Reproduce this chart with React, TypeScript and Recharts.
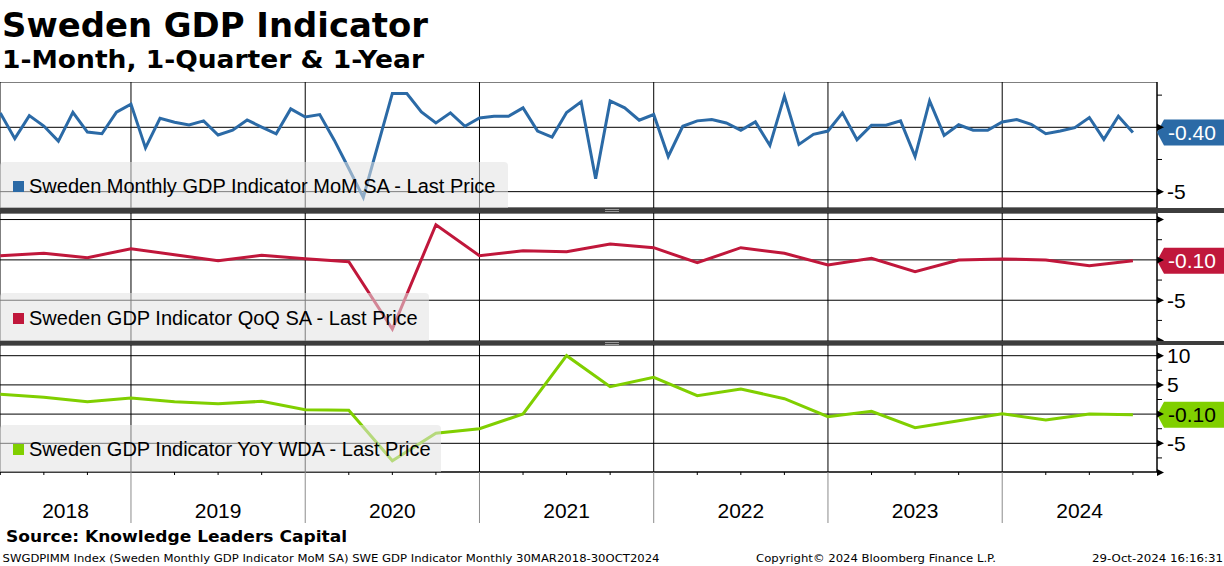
import React from "react";
import { LineChart, Line, XAxis, YAxis, CartesianGrid, ReferenceDot } from "recharts";

const WIDTH = 1224;
const AXIS_WIDTH = 67;
// x is months counted from the end of Dec 2017 (Mar 2018 = 3, Sep 2024 = 81)
const X_MIN = 2.98;
const X_MAX = 82.66;
const FONT = "'Liberation Sans', Arial, sans-serif";
const BOLD_FONT = "'DejaVu Sans', Verdana, sans-serif";

const years = ["2018", "2019", "2020", "2021", "2022", "2023", "2024"];

// Sweden Monthly GDP Indicator MoM SA, Mar 2018 - Sep 2024
const momValues = [
  1.12, -0.88, 0.91, 0.1, -1.07, 1.17, -0.37, -0.5, 1.17, 1.8,
  -1.6, 0.7, 0.39, 0.18, 0.5, -0.6, -0.23, 0.57, 0.02, -0.5, 1.43, 0.8,
  0.99, -1.0, -3.2, -5.44, -1.4, 2.63, 2.63, 1.2, 0.34, 1.12, 0.08, 0.73,
  0.86, 0.86, 1.51, -0.29, -0.76, 1.15, 1.98, -4.0, 2.05, 1.51, 0.55, 0.99,
  -2.27, 0.08, 0.5, 0.6, 0.34, -0.23, 0.42, -1.41, 2.42, -1.33, -0.55, -0.29,
  1.12, -0.96, 0.16, 0.16, 0.5, -2.27, 2.05, -0.63, 0.2, -0.23, -0.23, 0.42,
  0.6, 0.23, -0.5, -0.29, -0.03, 0.76, -0.94, 0.86, -0.4,
];

// quarter ends, Mar 2018 - Sep 2024
const qoqValues = [
  0.52, 0.82, 0.27, 1.39,
  0.64, -0.1, 0.57, 0.15,
  -0.22, -8.56, 4.36, 0.52,
  1.14, 1.02, 1.97, 1.51,
  -0.35, 1.51, 0.82, -0.63,
  0.2, -1.46, -0.01, 0.11,
  0.0, -0.72, -0.1,
];

const yoyValues = [
  3.39, 2.88, 2.12, 2.76,
  2.12, 1.78, 2.19, 0.75,
  0.65, -7.98, -3.29, -2.5,
  0.02, 10.0, 4.69, 6.3,
  3.15, 4.3, 2.64, -0.45,
  0.48, -2.33, -1.13, 0.07,
  -1.01, 0.02, -0.1,
];

const momData = momValues.map((value, i) => ({ t: 3 + i, value }));
const qoqData = qoqValues.map((value, i) => ({ t: 3 + 3 * i, value }));
const yoyData = yoyValues.map((value, i) => ({ t: 3 + 3 * i, value }));

const yearEnds = years.slice(0, -1).map((_, i) => 12 * (i + 1));
const quarterTicks = qoqData.map((d) => d.t);
const yearLabelPos = years.map((_, i) => (Math.max(12 * i, X_MIN) + Math.min(12 * (i + 1), X_MAX)) / 2);
const bottomTicks = Array.from(new Set([...quarterTicks, ...yearLabelPos])).sort((a, b) => a - b);

type PanelDef = {
  name: string;
  color: string;
  tagText: string;
  data: { t: number; value: number }[];
  top: number;
  height: number;
  domain: [number, number];
  ticks: number[];
  grid: number[];
  labels: number[];
  legendWidth: number;
};

const panels: PanelDef[] = [
  {
    name: "Sweden Monthly GDP Indicator MoM SA - Last Price",
    color: "#2b6aa6",
    tagText: "#ffffff",
    data: momData,
    top: 82,
    height: 126,
    domain: [-6.27, 3.52],
    ticks: [2.5, 0, -2.5, -5],
    grid: [0, -5],
    labels: [-5],
    legendWidth: 508,
  },
  {
    name: "Sweden GDP Indicator QoQ SA - Last Price",
    color: "#c0173b",
    tagText: "#ffffff",
    data: qoqData,
    top: 213,
    height: 128,
    domain: [-10.05, 5.81],
    ticks: [5, 2.5, 0, -2.5, -5, -7.5, -10],
    grid: [5, 0, -5],
    labels: [-5],
    legendWidth: 429,
  },
  {
    name: "Sweden GDP Indicator YoY WDA - Last Price",
    color: "#80cf00",
    tagText: "#000000",
    data: yoyData,
    top: 345,
    height: 127,
    domain: [-9.91, 11.83],
    ticks: [10, 7.5, 5, 2.5, 0, -2.5, -5, -7.5, -10],
    grid: [10, 5, 0, -5],
    labels: [10, 5, -5],
    legendWidth: 441,
  },
];

function AxisTick(props: any) {
  const { x, y, payload, labels } = props;
  const v = payload.value;
  const major = v % 5 === 0;
  return (
    <g>
      {major ? (
        <polygon points={`${x},${y - 3.5} ${x + 7},${y} ${x},${y + 3.5}`} fill="#000" />
      ) : (
        <line x1={x} x2={x + 5} y1={y} y2={y} stroke="#000" />
      )}
      {labels.includes(v) && (
        <text x={x + 10} y={y} dy="0.36em" fontSize={21} fontFamily={FONT} fill="#000">
          {String(v)}
        </text>
      )}
    </g>
  );
}

function ValueTag({ cx, cy, fill, color, text }: any) {
  const h = 26;
  const tip = 7;
  const w = 72;
  return (
    <g>
      <polygon
        points={`${cx},${cy} ${cx + tip},${cy - h / 2} ${cx + w},${cy - h / 2} ${cx + w},${cy + h / 2} ${cx + tip},${cy + h / 2}`}
        fill={fill}
      />
      <text x={cx + 11} y={cy} dy="0.36em" fontSize={21} fontFamily={FONT} fill={color}>
        {text}
      </text>
    </g>
  );
}

// bottom axis: quarter ticks, grey year dividers, year labels centred in each visible year
function XTick(props: any) {
  const { x, y, payload } = props;
  const v = payload.value;
  const yearIdx = yearLabelPos.indexOf(v);
  const isYearEnd = yearEnds.includes(v);
  const isQuarter = quarterTicks.includes(v);
  return (
    <g>
      {isYearEnd && <line x1={x} x2={x} y1={y} y2={y + 51} stroke="#8c8c8c" />}
      {isQuarter && !isYearEnd && <line x1={x} x2={x} y1={y} y2={y + 3} stroke="#000" />}
      {yearIdx >= 0 && (
        <text x={x} y={y + 46} textAnchor="middle" fontSize={21} fontFamily={FONT} fill="#000">
          {years[yearIdx]}
        </text>
      )}
    </g>
  );
}

function Panel({ p, withAxis }: { p: PanelDef; withAxis: boolean }) {
  const last = p.data[p.data.length - 1];
  const chartHeight = p.height + (withAxis ? 51 : 0);
  return (
    <div style={{ position: "absolute", left: 0, top: p.top, width: WIDTH, height: chartHeight }}>
      <LineChart width={WIDTH} height={chartHeight} data={p.data} margin={{ top: 0, right: 0, bottom: 0, left: 0 }}>
        <CartesianGrid xAxisId="grid" yAxisId="grid" stroke="#000" strokeWidth={1} />
        <XAxis
          dataKey="t" type="number" domain={[X_MIN, X_MAX]} allowDataOverflow
          hide={!withAxis} ticks={bottomTicks} interval={0} height={51}
          axisLine={{ stroke: "#000" }} tickLine={false} tickSize={0} tickMargin={0} tick={XTick}
        />
        <XAxis
          xAxisId="grid" dataKey="t" type="number" domain={[X_MIN, X_MAX]}
          ticks={yearEnds} interval={0} allowDataOverflow hide
        />
        <YAxis yAxisId="grid" type="number" domain={p.domain} ticks={p.grid} interval={0} allowDataOverflow hide />
        <YAxis
          yAxisId="val" orientation="right" width={AXIS_WIDTH} type="number" domain={p.domain}
          ticks={p.ticks} interval={0} allowDataOverflow axisLine={{ stroke: "#000" }}
          tickLine={false} tickSize={0} tickMargin={0}
          tick={(props: any) => <AxisTick {...props} labels={p.labels} />}
        />
        <Line
          yAxisId="val" dataKey="value" type="linear" stroke={p.color} strokeWidth={3}
          dot={false} activeDot={false} isAnimationActive={false}
        />
        <ReferenceDot
          yAxisId="val" x={X_MAX} y={last.value}
          shape={(s: any) => <ValueTag cx={s.cx} cy={s.cy} fill={p.color} color={p.tagText} text={last.value.toFixed(2)} />}
        />
      </LineChart>
      <div
        style={{
          position: "absolute", left: 0, top: 80, width: p.legendWidth, height: p.height - 80,
          background: "rgba(226,226,226,0.55)", borderRadius: "4px 4px 0 0",
          display: "flex", alignItems: "center", boxSizing: "border-box", paddingTop: 2,
          fontFamily: FONT, fontSize: 20, color: "#000", whiteSpace: "nowrap",
        }}
      >
        <span style={{ width: 11, height: 11, background: p.color, marginLeft: 13, marginRight: 5, flex: "none" }} />
        {p.name}
      </div>
    </div>
  );
}

function Separator({ top, height }: { top: number; height: number }) {
  return (
    <div style={{ position: "absolute", left: 0, top, width: WIDTH, height, background: "#3d3d3d" }}>
      <div style={{ position: "absolute", left: 605, top: 1, width: 14, height: 1, background: "#9a9a9a" }} />
      <div style={{ position: "absolute", left: 605, top: 3, width: 14, height: 1, background: "#9a9a9a" }} />
    </div>
  );
}

export default function App() {
  return (
    <div style={{ position: "absolute", left: 0, top: 0, width: WIDTH, height: 566, background: "#fff", overflow: "hidden" }}>
      <svg width={WIDTH} height={80} style={{ position: "absolute", left: 0, top: 0 }}>
        <text x={2} y={36.7} fontFamily={BOLD_FONT} fontWeight="bold" fontSize={34} textLength={426} lengthAdjust="spacingAndGlyphs">
          Sweden GDP Indicator
        </text>
        <text x={2} y={68.3} fontFamily={BOLD_FONT} fontWeight="bold" fontSize={24} textLength={422} lengthAdjust="spacingAndGlyphs">
          {"1-Month, 1-Quarter & 1-Year"}
        </text>
      </svg>
      {panels.map((p, i) => (
        <Panel key={p.name} p={p} withAxis={i === panels.length - 1} />
      ))}
      <Separator top={208} height={5} />
      <Separator top={340.5} height={4.5} />
      <svg width={WIDTH} height={44} style={{ position: "absolute", left: 0, top: 522 }}>
        <text x={6} y={19.7} fontFamily={BOLD_FONT} fontWeight="bold" fontSize={16.5} textLength={341} lengthAdjust="spacingAndGlyphs">
          Source: Knowledge Leaders Capital
        </text>
        <text x={2.5} y={39.7} fontFamily={BOLD_FONT} fontSize={11} textLength={657} lengthAdjust="spacingAndGlyphs">
          SWGDPIMM Index (Sweden Monthly GDP Indicator MoM SA) SWE GDP Indicator  Monthly 30MAR2018-30OCT2024
        </text>
        <text x={756} y={39.7} fontFamily={BOLD_FONT} fontSize={11} textLength={240} lengthAdjust="spacingAndGlyphs">
          Copyright© 2024 Bloomberg Finance L.P.
        </text>
        <text x={1092} y={39.7} fontFamily={BOLD_FONT} fontSize={11} textLength={131} lengthAdjust="spacingAndGlyphs">
          29-Oct-2024 16:16:31
        </text>
      </svg>
    </div>
  );
}
